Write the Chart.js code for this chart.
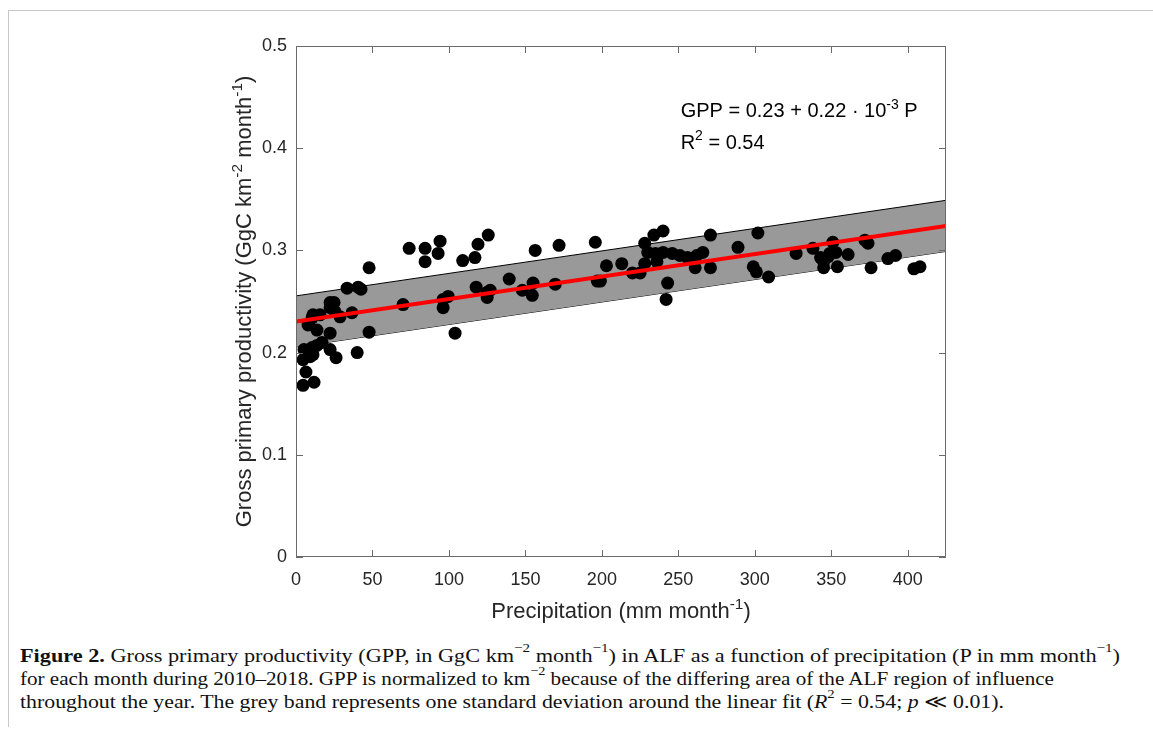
<!DOCTYPE html>
<html>
<head>
<meta charset="utf-8">
<script src="https://cdn.jsdelivr.net/npm/chart.js@4/dist/chart.umd.min.js"></script>
<style>
  body { margin: 0; background: #fff; width: 1153px; height: 736px; overflow: hidden; position: relative; }
  #frame { position: absolute; left: 8px; top: 10px; width: 1160px; height: 716px; border-left: 1px solid #c8c8c8; border-top: 1px solid #c8c8c8; }
  #wrap { position: absolute; left: 0; top: 0; }
  #caption { position: absolute; left: 20px; top: 645px; font-family: "Liberation Serif", serif; font-size: 18.5px; line-height: 23px; color: #111; white-space: nowrap; }
  #caption div { transform-origin: 0 50%; width: max-content; }
  #caption sup { font-size: 12.5px; line-height: 0; position: relative; top: -3px; }
</style>
</head>
<body>
<div id="frame"></div>
<div id="wrap"><canvas id="c" width="1153" height="630"></canvas></div>
<div id="caption">
  <div><b>Figure 2.</b> Gross primary productivity (GPP, in GgC km<sup>−2</sup> month<sup>−1</sup>) in ALF as a function of precipitation (P in mm month<sup>−1</sup>)</div>
  <div>for each month during 2010–2018. GPP is normalized to km<sup>−2</sup> because of the differing area of the ALF region of influence</div>
  <div>throughout the year. The grey band represents one standard deviation around the linear fit (<i>R</i><sup>2</sup> = 0.54; <i>p</i> ≪ 0.01).</div>
</div>
<script>
// monthly precipitation (mm/month) and GPP (GgC km-2 month-1)
const precip = [
  4.6, 11.8, 6.5, 4.6, 9.2, 11.1, 5.2, 10.5, 13.7, 17, 22.3, 22.3, 26.2, 40, 47.8,
  7.9, 10.5, 13.7, 11.1, 15.7, 22.3, 24.9, 22.3, 25.5, 28.8, 36.6, 33.4, 40.6, 42.5, 47.8,
  70, 74, 84.4, 94.2, 92.9, 84.4, 96.2, 99.5, 96.2, 104, 109, 117, 119, 125.7, 117.8,
  125, 127, 125, 156.4, 172, 139.4, 148, 154.5, 155, 169.5, 195.7, 197, 199, 203, 213,
  220, 225, 228, 228, 234, 240, 230, 235, 240, 236, 246, 251, 256, 262, 266,
  261, 271, 271, 243, 242, 289, 302, 299, 301, 309, 327, 338, 351, 349, 353,
  343, 345, 348, 345, 354, 361, 372, 374, 376, 387, 392, 404, 408,
];
const gpp = [
  0.168, 0.171, 0.181, 0.193, 0.196, 0.198, 0.203, 0.205, 0.207, 0.21, 0.219, 0.203, 0.195, 0.2, 0.22,
  0.227, 0.234, 0.222, 0.237, 0.237, 0.249, 0.249, 0.244, 0.24, 0.235, 0.239, 0.263, 0.264, 0.262, 0.283,
  0.247, 0.302, 0.302, 0.309, 0.297, 0.289, 0.252, 0.255, 0.244, 0.219, 0.29, 0.293, 0.306, 0.315, 0.264,
  0.259, 0.261, 0.254, 0.3, 0.305, 0.272, 0.261, 0.256, 0.268, 0.267, 0.308, 0.27, 0.27, 0.285, 0.287,
  0.278, 0.278, 0.287, 0.307, 0.315, 0.319, 0.298, 0.297, 0.298, 0.289, 0.297, 0.295, 0.293, 0.295, 0.298,
  0.283, 0.283, 0.315, 0.268, 0.252, 0.303, 0.317, 0.284, 0.279, 0.274, 0.297, 0.302, 0.308, 0.297, 0.298,
  0.293, 0.289, 0.294, 0.283, 0.284, 0.296, 0.31, 0.307, 0.283, 0.292, 0.295, 0.282, 0.284,
];

// linear fit and +-1 sd band, read at the two ends of the x range
const fitX = [0, 425];
const fitY = [0.2305, 0.3240];
const bandUp = [0.2555, 0.3490];
const bandLo = [0.2055, 0.2990];

const xTicks = [0, 50, 100, 150, 200, 250, 300, 350, 400];
const yTicks = [0, 0.1, 0.2, 0.3, 0.4, 0.5];

const eqLines = [
  [["GPP = 0.23 + 0.22 \u00b7 10"], ["-3", 1], [" P"]],
  [["R"], ["2", 1], [" = 0.54"]],
];
const yTitle = [["Gross primary productivity (GgC km"], ["-2", 1], [" month"], ["-1", 1], [")"]];
const xTitle = [["Precipitation (mm month"], ["-1", 1], [")"]];

// caption line widths in the figure
const captionWidths = [1100, 1034, 984];

const pts = (xs, ys) => xs.map((x, i) => ({ x, y: ys[i] }));
const FONT = '"Liberation Sans", Arial, sans-serif';
const INK = "#262626";

function richWidth(ctx, parts, size) {
  let w = 0;
  parts.forEach(([t, sup]) => {
    ctx.font = `${sup ? size * 0.7 : size}px ${FONT}`;
    w += ctx.measureText(t).width;
  });
  return w;
}

function drawRich(ctx, parts, x, y, size) {
  let cx = x;
  ctx.textBaseline = "alphabetic";
  ctx.textAlign = "left";
  parts.forEach(([t, sup]) => {
    ctx.font = `${sup ? size * 0.7 : size}px ${FONT}`;
    ctx.fillText(t, cx, sup ? y - size * 0.42 : y);
    cx += ctx.measureText(t).width;
  });
}

const matlabAxes = {
  id: "matlabAxes",
  afterDatasetsDraw(chart) {
    const { ctx, chartArea: a, scales } = chart;
    const xs = scales.x, ys = scales.y;
    ctx.save();
    ctx.strokeStyle = "#6a6a6a";
    ctx.lineWidth = 1;
    ctx.beginPath();
    ctx.rect(a.left + 0.5, a.top + 0.5, a.right - a.left - 1, a.bottom - a.top - 1);
    xTicks.forEach((v) => {
      const p = Math.round(xs.getPixelForValue(v)) + 0.5;
      ctx.moveTo(p, a.bottom); ctx.lineTo(p, a.bottom - 7);
      ctx.moveTo(p, a.top); ctx.lineTo(p, a.top + 7);
    });
    yTicks.forEach((v) => {
      const p = Math.round(ys.getPixelForValue(v)) + 0.5;
      ctx.moveTo(a.left, p); ctx.lineTo(a.left + 7, p);
      ctx.moveTo(a.right, p); ctx.lineTo(a.right - 7, p);
    });
    ctx.stroke();

    ctx.fillStyle = "#000";
    const ex = xs.getPixelForValue(251.5);
    drawRich(ctx, eqLines[0], ex, ys.getPixelForValue(0.4305), 20);
    drawRich(ctx, eqLines[1], ex, ys.getPixelForValue(0.3995), 20);

    ctx.fillStyle = INK;
    const xw = richWidth(ctx, xTitle, 22);
    drawRich(ctx, xTitle, (a.left + a.right) / 2 - xw / 2, 618, 22);

    const yw = richWidth(ctx, yTitle, 22);
    ctx.translate(251, (a.top + a.bottom) / 2);
    ctx.rotate(-Math.PI / 2);
    drawRich(ctx, yTitle, -yw / 2, 0, 22);
    ctx.restore();
  },
};

new Chart(document.getElementById("c"), {
  type: "scatter",
  data: {
    datasets: [
      {
        data: pts(fitX, fitY),
        showLine: true,
        borderColor: "#ff0000",
        borderWidth: 4,
        pointRadius: 0,
        order: 0,
      },
      {
        data: pts(precip, gpp),
        backgroundColor: "#000",
        borderColor: "#000",
        pointRadius: 6.5,
        borderWidth: 0,
        order: 1,
      },
      {
        data: pts(fitX, bandUp),
        showLine: true,
        borderColor: "#000",
        borderWidth: 1,
        backgroundColor: "#999999",
        fill: 3,
        pointRadius: 0,
        order: 2,
      },
      {
        data: pts(fitX, bandLo),
        showLine: true,
        borderColor: "#000",
        borderWidth: 1,
        pointRadius: 0,
        fill: false,
        order: 2,
      },
    ],
  },
  options: {
    responsive: false,
    animation: false,
    devicePixelRatio: 1,
    layout: { padding: { left: 0, top: 46, right: 207, bottom: 0 } },
    plugins: { legend: { display: false }, tooltip: { enabled: false } },
    scales: {
      x: {
        type: "linear",
        min: 0,
        max: 425,
        grid: { display: false, drawTicks: false },
        border: { display: false },
        afterBuildTicks: (s) => { s.ticks = xTicks.map((value) => ({ value })); },
        afterFit: (s) => { s.height = 73; },
        ticks: { color: INK, padding: 12, font: { family: FONT, size: 18 } },
      },
      y: {
        min: 0,
        max: 0.5,
        grid: { display: false, drawTicks: false },
        border: { display: false },
        afterBuildTicks: (s) => { s.ticks = yTicks.map((value) => ({ value })); },
        afterFit: (s) => { s.width = 296; },
        ticks: {
          color: INK,
          padding: 9,
          font: { family: FONT, size: 18 },
          callback: (v) => String(+v.toFixed(1)),
        },
      },
    },
  },
  plugins: [matlabAxes],
});

// stretch each caption line to the width it has in the figure
document.querySelectorAll("#caption div").forEach((el, i) => {
  const w = el.getBoundingClientRect().width;
  el.style.transform = `scaleX(${captionWidths[i] / w})`;
});
</script>
</body>
</html>
